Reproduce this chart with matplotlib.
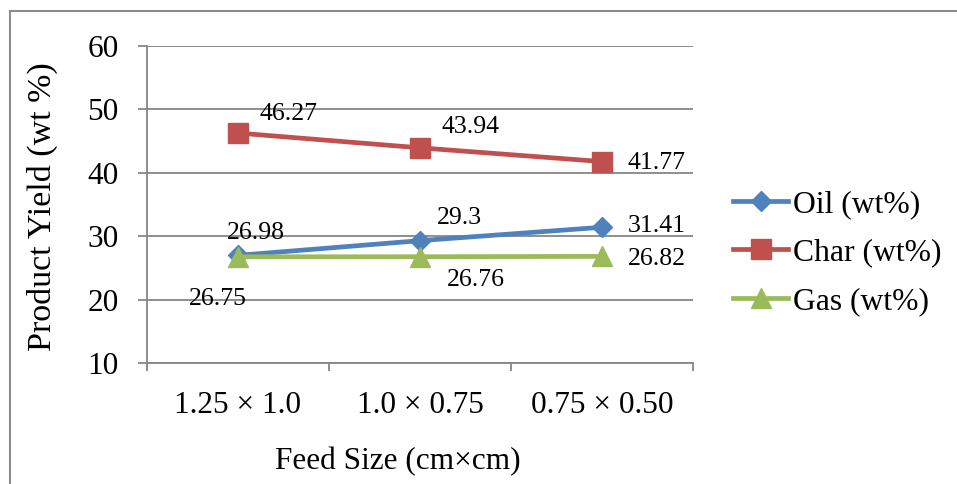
import numpy as np
import matplotlib.pyplot as plt
from matplotlib.lines import Line2D

plt.rcParams["font.family"] = ["Liberation Serif", "DejaVu Serif"]

categories = ["1.25 × 1.0", "1.0 × 0.75", "0.75 × 0.50"]
oil = [26.98, 29.3, 31.41]
char = [46.27, 43.94, 41.77]
gas = [26.75, 26.76, 26.82]

series_names = ["Oil (wt%)", "Char (wt%)", "Gas (wt%)"]
colors = ["#4F81BD", "#C0504D", "#9BBB59"]
markers = ["D", "s", "^"]
marker_sizes = [10.5, 14, 14.5]

# label offsets in pixels (dx, dy) relative to each point
label_offsets = [
    [(18, 22), (39, 23), (55, 1)],
    [(50, 19), (50, 21), (55, -1)],
    [(-20, -42), (56, -23), (55, -3)],
]

W, H = 957, 484
fig = plt.figure(figsize=(W / 100, H / 100), dpi=100)
ax = fig.add_axes([147 / W, (H - 363) / H, 546 / W, 317 / H])

x = np.arange(len(categories))
grid_col = "#868686"

for vals, name, c, m, ms, offs in zip([oil, char, gas], series_names, colors,
                                       markers, marker_sizes, label_offsets):
    ax.plot(x, vals, color=c, linewidth=3.4, marker=m, markersize=ms,
            markeredgecolor=c, label=name, zorder=3)
    for xi, v, (dx, dy) in zip(x, vals, offs):
        ax.annotate(f"{v:g}", (xi, v), xytext=(dx, dy), textcoords="offset pixels",
                    ha="center", va="center", fontsize=18.5, zorder=4)

ax.set_xlim(-0.5, 2.5)
ax.set_ylim(10, 60)
ax.set_yticks(np.arange(10, 61, 10))
ax.yaxis.grid(True, color=grid_col, linewidth=1.3)
ax.set_axisbelow(True)

ax.set_xticks(x)
ax.set_xticklabels(categories)
ax.set_xticks(np.arange(-0.5, 2.6, 1), minor=True)
ax.tick_params(axis="x", which="major", length=0, pad=20, labelsize=22.5)
ax.tick_params(axis="x", which="minor", length=6, width=1.3, color=grid_col)
ax.tick_params(axis="y", length=6.5, width=1.3, color=grid_col, pad=14, labelsize=22.5)

for s in ["top", "right"]:
    ax.spines[s].set_visible(False)
ax.spines["left"].set_color(grid_col)
ax.spines["left"].set_linewidth(1.3)
ax.spines["bottom"].set_color(grid_col)
ax.spines["bottom"].set_linewidth(1.3)

fig.text(42 / W, 1 - 207 / H, "Product Yield (wt %)", rotation=90,
         ha="center", va="center", fontsize=24.5)
fig.text(398 / W, 1 - 462 / H, "Feed Size (cm×cm)", ha="center", va="center",
         fontsize=22.5)

handles, labels = ax.get_legend_handles_labels()
fig.legend(handles, labels, loc="center left", bbox_to_anchor=(733 / W, 1 - 253 / H),
           frameon=False, fontsize=22.8, handlelength=1.75, handletextpad=0.15,
           labelspacing=0.62, borderaxespad=0, borderpad=0)

# outer chart border (cropped on the right and bottom)
fig.add_artist(Line2D([9.5 / W, 9.5 / W], [0, 1 - 10.5 / H], color="#8c8c8c",
                      linewidth=1.5, transform=fig.transFigure))
fig.add_artist(Line2D([9.5 / W, 1], [1 - 10.5 / H, 1 - 10.5 / H], color="#8c8c8c",
                      linewidth=1.5, transform=fig.transFigure))

plt.savefig("out.png", dpi=100)
